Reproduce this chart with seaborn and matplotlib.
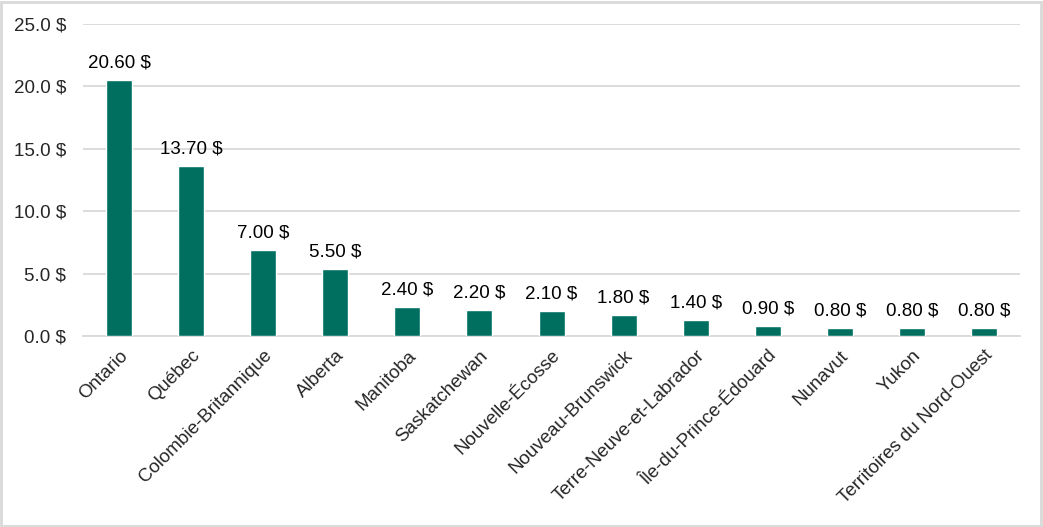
import numpy as np
import pandas as pd
import matplotlib
matplotlib.use("Agg")
import matplotlib.pyplot as plt
import seaborn as sns

provinces = ["Ontario", "Québec", "Colombie-Britannique", "Alberta", "Manitoba",
             "Saskatchewan", "Nouvelle-Écosse", "Nouveau-Brunswick",
             "Terre-Neuve-et-Labrador", "Île-du-Prince-Édouard", "Nunavut",
             "Yukon", "Territoires du Nord-Ouest"]
# bar heights as drawn
values = [20.5, 13.6, 6.9, 5.4, 2.3, 2.1, 2.0, 1.7, 1.3, 0.8, 0.65, 0.65, 0.65]
# data labels as printed
labels = ["20.60 $", "13.70 $", "7.00 $", "5.50 $", "2.40 $", "2.20 $", "2.10 $",
          "1.80 $", "1.40 $", "0.90 $", "0.80 $", "0.80 $", "0.80 $"]
yticks = [0, 5, 10, 15, 20, 25]

sns.set_style("white")
plt.rcParams['font.family'] = ['Liberation Sans', 'DejaVu Sans']
FS = 13.5

df = pd.DataFrame({"province": provinces, "value": values})

fig = plt.figure(figsize=(10.43, 5.27), dpi=100)
ax = fig.add_axes([0.0796, 0.3624, 0.978 - 0.0796, 0.9545 - 0.3624])
sns.barplot(data=df, x="province", y="value", color="#006F5F", width=0.36,
            saturation=1, ax=ax, zorder=3)

for i, (v, t) in enumerate(zip(values, labels)):
    ax.annotate(t, (i, v), xytext=(0, 6), textcoords="offset points",
                ha="center", va="bottom", fontsize=FS, color="black")

ax.set_ylim(0, 25)
ax.set_xlim(-0.5, len(provinces) - 0.5)
ax.set_yticks(yticks)
ax.set_yticklabels([f"{t:.1f} $" for t in yticks], fontsize=FS)
ax.yaxis.grid(True, color="#d9d9d9", linewidth=1.3, zorder=0)
ax.set_xlabel("")
ax.set_ylabel("")

ax.set_xticks(range(len(provinces)))
ax.set_xticklabels(provinces, rotation=45, ha="right", rotation_mode="anchor",
                   fontsize=FS)
ax.tick_params(axis="x", length=0, pad=8)
ax.tick_params(axis="y", length=0, pad=12)
ax.set_xticks(np.arange(-0.5, len(provinces)), minor=True)
ax.tick_params(axis="x", which="minor", length=6, color="#d9d9d9", width=1.3)

for s in ["left", "right", "top"]:
    ax.spines[s].set_visible(False)
ax.spines["bottom"].set_color("#d9d9d9")
ax.spines["bottom"].set_linewidth(1.3)

fig.patches.append(plt.Rectangle((0.001, 0.002), 0.997, 0.995, transform=fig.transFigure,
                                 fill=False, edgecolor="#d9d9d9", linewidth=2))

fig.savefig("out.png", dpi=100)
